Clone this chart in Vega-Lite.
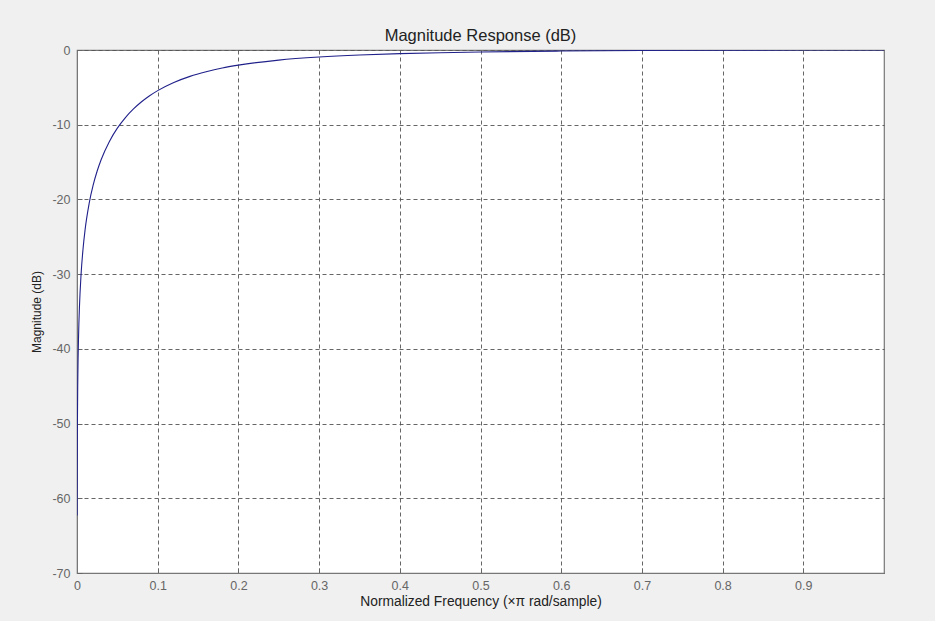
{
  "$schema": "https://vega.github.io/schema/vega-lite/v6.json",
  "autosize": "none",
  "width": 807,
  "height": 523,
  "padding": {"left": 77, "top": 50, "right": 51, "bottom": 48},
  "background": "#f0f0f0",
  "title": {"text": "Magnitude Response (dB)", "font": "Liberation Sans", "fontSize": 16.5, "fontWeight": "normal", "color": "#222", "offset": 0},
  "data": {"values": [
    {"f": 0.000122, "db": -62.3},
    {"f": 0.0005, "db": -50.1},
    {"f": 0.001, "db": -44.1},
    {"f": 0.002, "db": -38.0},
    {"f": 0.003, "db": -34.5},
    {"f": 0.005, "db": -30.1},
    {"f": 0.0075, "db": -26.6},
    {"f": 0.01, "db": -24.07},
    {"f": 0.015, "db": -20.57},
    {"f": 0.02, "db": -18.1},
    {"f": 0.025, "db": -16.2},
    {"f": 0.03, "db": -14.66},
    {"f": 0.04, "db": -12.27},
    {"f": 0.05, "db": -10.46},
    {"f": 0.06, "db": -9.04},
    {"f": 0.07, "db": -7.89},
    {"f": 0.08, "db": -6.93},
    {"f": 0.09, "db": -6.13},
    {"f": 0.1, "db": -5.44},
    {"f": 0.12, "db": -4.35},
    {"f": 0.14, "db": -3.53},
    {"f": 0.16, "db": -2.91},
    {"f": 0.18, "db": -2.41},
    {"f": 0.2, "db": -2.03},
    {"f": 0.25, "db": -1.35},
    {"f": 0.3, "db": -0.94},
    {"f": 0.35, "db": -0.67},
    {"f": 0.4, "db": -0.49},
    {"f": 0.45, "db": -0.36},
    {"f": 0.5, "db": -0.26},
    {"f": 0.6, "db": -0.14},
    {"f": 0.7, "db": -0.07},
    {"f": 0.8, "db": -0.029},
    {"f": 0.9, "db": -0.007},
    {"f": 1.0, "db": 0}
  ]},
  "mark": {"type": "line", "color": "#20208a", "strokeWidth": 1.1, "interpolate": "monotone", "clip": true},
  "encoding": {
    "x": {"field": "f", "type": "quantitative",
      "scale": {"domain": [0, 1], "nice": false, "zero": false},
      "axis": {"title": "Normalized Frequency (×π rad/sample)", "values": [0, 0.1, 0.2, 0.3, 0.4, 0.5, 0.6, 0.7, 0.8, 0.9], "format": "~g", "labelFlush": false, "labelPadding": 11, "titlePadding": 3, "titleFontSize": 13.8}},
    "y": {"field": "db", "type": "quantitative",
      "scale": {"domain": [-70, 0], "nice": false, "zero": false},
      "axis": {"title": "Magnitude (dB)", "values": [-70, -60, -50, -40, -30, -20, -10, 0], "labelExpr": "'' + datum.value", "labelFlush": false, "labelPadding": 12, "titlePadding": 8, "titleFontSize": 12}}
  },
  "config": {
    "view": {"stroke": "#777", "strokeWidth": 1.2, "fill": "white"},
    "axis": {
      "labelFont": "Liberation Sans", "labelFontSize": 12.5, "labelColor": "#666",
      "titleFont": "Liberation Sans", "titleFontWeight": "normal", "titleColor": "#222",
      "domainColor": "#777", "tickColor": "#666", "tickSize": -5,
      "gridColor": "#555", "gridDash": [4, 3], "gridOpacity": 0.9, "gridWidth": 1
    }
  }
}
